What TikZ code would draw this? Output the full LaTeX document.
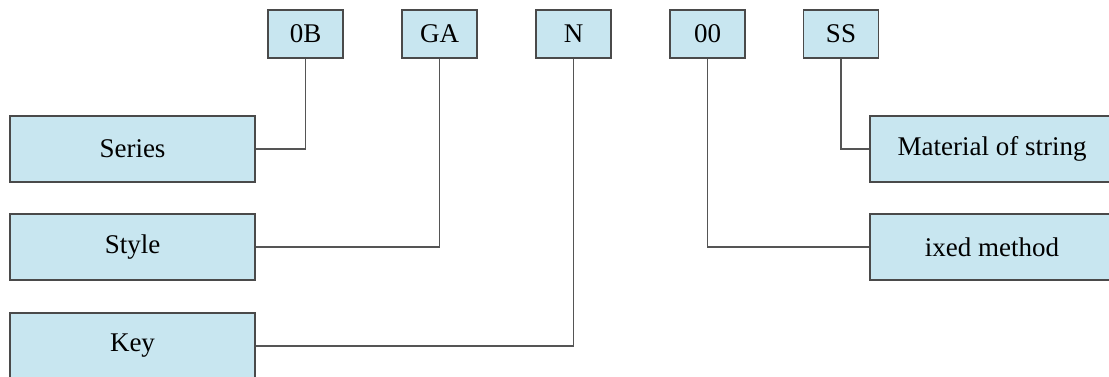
\documentclass[tikz,border=0pt]{standalone}
\usepackage{fontspec}
\setmainfont{Liberation Serif}
\definecolor{boxfill}{HTML}{C8E6F0}
\definecolor{boxline}{HTML}{4A4A4A}
\definecolor{connline}{HTML}{555555}
\begin{document}
\begin{tikzpicture}[x=0.75pt,y=-0.75pt,
  codebox/.style={draw=boxline,line width=1.4pt,fill=boxfill,minimum width=56.25pt,minimum height=36pt,inner sep=0pt,font=\fontsize{20.25}{24}\selectfont},
  labelbox/.style={draw=boxline,line width=1.4pt,fill=boxfill,minimum width=183.75pt,minimum height=49.5pt,inner sep=0pt,font=\fontsize{20.25}{24}\selectfont},
  rlabelbox/.style={labelbox,minimum width=183pt},
  conn/.style={draw=connline,line width=1.2pt}]
\useasboundingbox (0,0) rectangle (1109,376);
\node[codebox] (ob) at (305.5,34) {0B};
\node[codebox] (ga) at (439.5,34) {GA};
\node[codebox] (n)  at (573.5,34) {N};
\node[codebox] (oo) at (707.5,34) {00};
\node[codebox] (ss) at (841,34) {SS};
\node[labelbox] (series) at (132.5,149) {Series};
\node[labelbox] (style)  at (132.5,247) {Style};
\node[labelbox] (key)    at (132.5,346) {Key};
\node[rlabelbox] (mat)  at (992,149) {Material of string};
\node[rlabelbox] (ixed) at (992,247) {ixed method};
\draw[conn] (ob.south) |- (series.east);
\draw[conn] (ga.south) |- (style.east);
\draw[conn] (n.south)  |- (key.east);
\draw[conn] (oo.south) |- (ixed.west);
\draw[conn] (ss.south) |- (mat.west);
\end{tikzpicture}
\end{document}
